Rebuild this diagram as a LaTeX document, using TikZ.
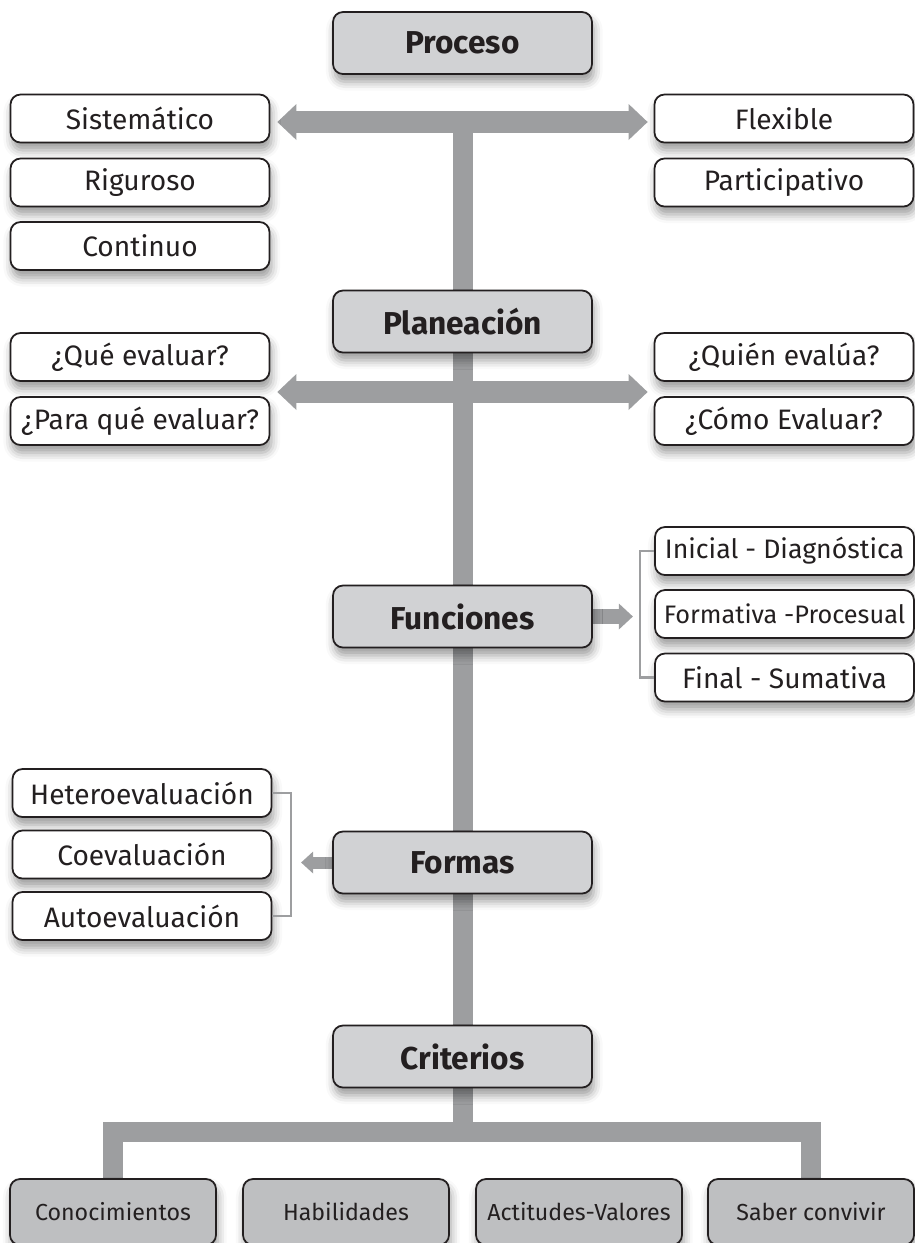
\documentclass[tikz,border=0pt]{standalone}
\usepackage{fontspec}
\setmainfont{Fira Sans}
\usetikzlibrary{arrows.meta, shadows.blur, calc}
\pgfdeclarelayer{fondo}
\pgfsetlayers{fondo,main}
\definecolor{barra}{HTML}{9D9EA0}
\definecolor{caja}{HTML}{D1D2D4}
\definecolor{cajaosc}{HTML}{BEBFC1}
\definecolor{tinta}{HTML}{231F20}
\tikzset{
  base/.style={draw=tinta, line width=0.5pt, rounded corners=0.1cm, text=tinta,
    inner sep=0pt, blur shadow={shadow xshift=0.5pt, shadow yshift=-2.2pt,
    shadow blur radius=2.5pt, shadow opacity=40}},
  titulo/.style={base, fill=caja, minimum width=2.59cm, minimum height=0.62cm,
    font=\fontsize{9}{11}\selectfont\bfseries},
  opcion/.style={base, fill=white, minimum width=2.59cm, minimum height=0.48cm,
    font=\fontsize{8}{10}\selectfont},
  criterio/.style={base, fill=cajaosc, minimum width=2.06cm, minimum height=0.66cm,
    font=\fontsize{6.6}{8}\selectfont},
  tronco/.style={draw=barra, line width=0.2cm},
  punta/.tip={Triangle[length=0.19cm, width=0.36cm, line width=0pt]},
  flecha/.style={draw=barra, line width=0.22cm, punta-punta},
  corchete/.style={draw=barra, line width=0.6pt}
}

\begin{document}
\begin{tikzpicture}
    \useasboundingbox (0,0) rectangle (9.15,-12.43);
    \clip (0,0) rectangle (9.15,-12.43);
    % eje central
    \node[titulo] (proceso) at (4.625,-0.43) {Proceso};
    \node[titulo] (planeacion) at (4.625,-3.215) {Planeación};
    \node[titulo] (funciones) at (4.625,-6.165) {Funciones};
    \node[titulo] (formas) at (4.625,-8.625) {Formas};
    \node[titulo] (criterios) at (4.625,-10.565) {Criterios};
    % proceso
    \node[opcion] (sis) at (1.40,-1.185) {Sistemático};
    \node[opcion] (rig) at (1.40,-1.825) {Riguroso};
    \node[opcion] (con) at (1.40,-2.46) {Continuo};
    \node[opcion] (flex) at (7.84,-1.185) {Flexible};
    \node[opcion] (part) at (7.84,-1.825) {Participativo};
    % planeacion
    \node[opcion] (que) at (1.40,-3.57) {¿Qué evaluar?};
    \node[opcion] (para) at (1.40,-4.21) {¿Para qué evaluar?};
    \node[opcion] (quien) at (7.84,-3.57) {¿Quién evalúa?};
    \node[opcion] (como) at (7.84,-4.21) {¿Cómo Evaluar?};
    % funciones
    \node[opcion, font=\fontsize{7.6}{9}\selectfont] (ini) at (7.845,-5.51) {Inicial - Diagnóstica};
    \node[opcion, font=\fontsize{7.2}{9}\selectfont] (form) at (7.845,-6.14) {Formativa -Procesual};
    \node[opcion] (fin) at (7.845,-6.775) {Final - Sumativa};
    % formas
    \node[opcion] (het) at (1.42,-7.93) {Heteroevaluación};
    \node[opcion] (coe) at (1.42,-8.545) {Coevaluación};
    \node[opcion] (aut) at (1.42,-9.16) {Autoevaluación};
    % criterios
    \node[criterio] (cono) at (1.13,-12.12) {Conocimientos};
    \node[criterio] (hab) at (3.46,-12.12) {Habilidades};
    \node[criterio] (act) at (5.79,-12.12) {Actitudes-Valores};
    \node[criterio] (saber) at (8.11,-12.12) {Saber convivir};

    \coordinate (cruce1) at (4.63,-1.22);
    \coordinate (cruce2) at (4.63,-3.92);
    \coordinate (cruce3) at (4.63,-11.32);
    \begin{pgfonlayer}{fondo}
        \draw[tronco] (cruce1) -- (cruce3);
        \draw[tronco] (cono.north) |- (cruce3) -| (saber.north);
        \draw[flecha] ([xshift=0.07cm]sis.east |- cruce1) -- ([xshift=-0.06cm]flex.west |- cruce1);
        \draw[flecha] ([xshift=0.07cm]que.east |- cruce2) -- ([xshift=-0.06cm]quien.west |- cruce2);
        \draw[draw=barra, line width=0.15cm, -{Triangle[length=0.14cm, width=0.26cm, line width=0pt]}]
            (funciones.east) -- ++(0.40,0);
        \draw[draw=barra, line width=0.12cm, -{Triangle[length=0.12cm, width=0.22cm, line width=0pt]}]
            (formas.west) -- ++(-0.31,0);
    \end{pgfonlayer}
    \draw[corchete] (ini.west) -- ++(-0.14,0) |- (fin.west);
    \draw[corchete] (het.east) -- ++(0.19,0) |- (aut.east);
\end{tikzpicture}
\end{document}
